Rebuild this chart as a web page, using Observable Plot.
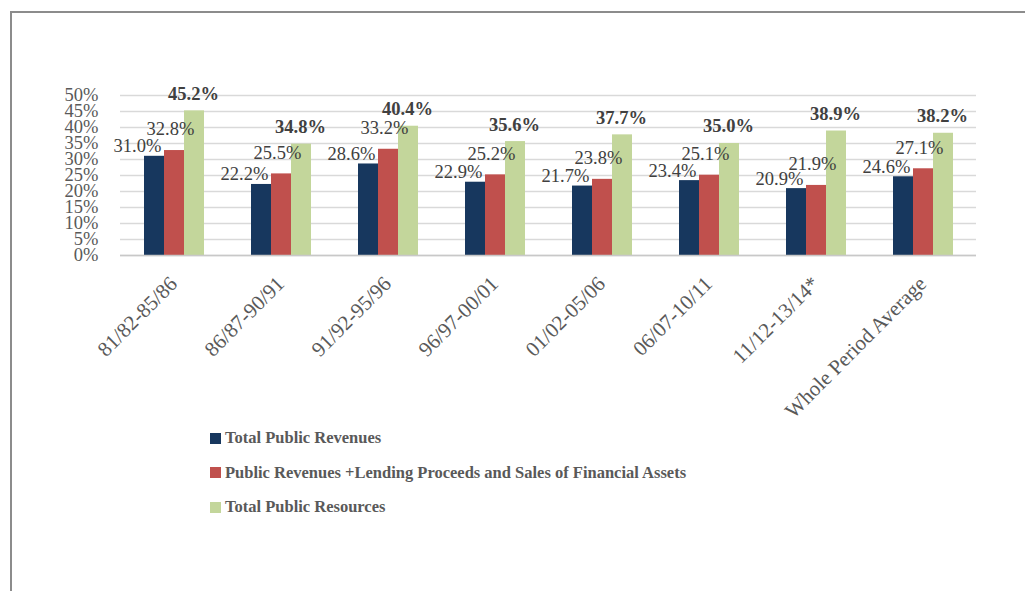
<!DOCTYPE html>
<html>
<head>
<meta charset="utf-8">
<script src="https://cdn.jsdelivr.net/npm/d3@7"></script>
<script src="https://cdn.jsdelivr.net/npm/@observablehq/plot@0.6"></script>
<style>
  html, body { margin: 0; padding: 0; background: #fff; width: 1025px; height: 591px; overflow: hidden; }
  #frame { position: absolute; left: 10px; top: 11px; width: 1100px; height: 700px;
           border-top: 2px solid #8c8c8c; border-left: 2px solid #8c8c8c; box-sizing: border-box; }
  #chart { position: absolute; left: 0; top: 0; }
  #legend { position: absolute; left: 210px; top: 421px; font-family: "Liberation Serif", "Times New Roman", serif;
            font-weight: bold; font-size: 16.5px; color: #595959; }
  .item { height: 34.5px; display: flex; align-items: center; }
  .sw { width: 11px; height: 11px; margin-right: 4px; display: inline-block; }
</style>
</head>
<body>
<div id="frame"></div>
<div id="chart"></div>
<div id="legend"></div>
<script>
const periods = ["81/82-85/86","86/87-90/91","91/92-95/96","96/97-00/01","01/02-05/06","06/07-10/11","11/12-13/14*","Whole Period Average"];
const seriesNames = ["Total Public Revenues","Public Revenues +Lending Proceeds and Sales of Financial Assets","Total Public Resources"];
const totalPublicRevenues = [31.0,22.2,28.6,22.9,21.7,23.4,20.9,24.6];
const revenuesPlusLending = [32.8,25.5,33.2,25.2,23.8,25.1,21.9,27.1];
const totalPublicResources = [45.2,34.8,40.4,35.6,37.7,35.0,38.9,38.2];
const colors = ["#17375E","#C0504D","#C3D69B"];
const yTicks = [0,0.05,0.10,0.15,0.20,0.25,0.30,0.35,0.40,0.45,0.50];

const serif = "'Liberation Serif', 'Times New Roman', serif";
const seriesValues = [totalPublicRevenues, revenuesPlusLending, totalPublicResources];
const rows = [];
periods.forEach((p, i) => seriesValues.forEach((vals, s) => rows.push({period: p, series: seriesNames[s], value: vals[i] / 100})));
const fmt = d => d3.format(".1f")(d.value * 100) + "%";
const bySeries = s => rows.filter(r => r.series === seriesNames[s]);

const plot = Plot.plot({
  width: 1025,
  height: 425,
  marginLeft: 119,
  marginRight: 48,
  marginTop: 95,
  marginBottom: 170,
  style: {fontFamily: serif, background: "transparent", overflow: "visible"},
  fx: {domain: periods, padding: 0, axis: null},
  x: {domain: seriesNames, paddingInner: 0, paddingOuter: 1.054, axis: null},
  y: {domain: [0, 0.5], axis: null},
  color: {domain: seriesNames, range: colors},
  marks: [
    Plot.gridY(yTicks, {stroke: "#d9d9d9", strokeOpacity: 1, strokeWidth: 1.3}),
    Plot.axisY(yTicks, {tickFormat: d3.format(".0%"), tickSize: 0, tickPadding: 22, fontSize: 18.5, fontFamily: serif, fill: "#595959", label: null}),
    Plot.barY(rows, {fx: "period", x: "series", y: "value", fill: "series", inset: 0}),
    Plot.ruleY([0], {stroke: "#c8c8c8", strokeWidth: 1.5}),
    Plot.text(bySeries(0), {fx: "period", x: "series", y: "value", text: fmt, dx: -17, dy: -10, fontSize: 18.5, fontFamily: serif, fill: "#404040"}),
    Plot.text(bySeries(1), {fx: "period", x: "series", y: "value", text: fmt, dx: -4, dy: -21, fontSize: 18.5, fontFamily: serif, fill: "#404040"}),
    Plot.text(bySeries(2), {fx: "period", x: "series", y: "value", text: fmt, dx: -1, dy: -17, fontSize: 18.5, fontFamily: serif, fontWeight: "bold", fill: "#404040"}),
    Plot.text(periods, {fx: d => d, frameAnchor: "bottom", text: d => d, rotate: -45, textAnchor: "end", lineAnchor: "top", dx: -6, dy: 19, fontSize: 21, fontFamily: serif, fill: "#595959"})
  ]
});
document.getElementById("chart").appendChild(plot);

const legend = document.getElementById("legend");
seriesNames.forEach((name, i) => {
  const item = document.createElement("div");
  item.className = "item";
  const sw = document.createElement("span");
  sw.className = "sw";
  sw.style.background = colors[i];
  const label = document.createElement("span");
  label.textContent = name;
  item.appendChild(sw);
  item.appendChild(label);
  legend.appendChild(item);
});
</script>
</body>
</html>
